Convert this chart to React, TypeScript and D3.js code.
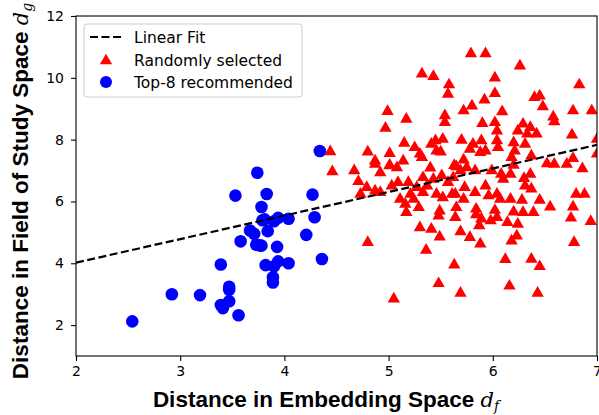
import React, { useEffect, useRef } from "react";
import * as d3 from "d3";

const xTicks = [2, 3, 4, 5, 6, 7];
const yTicks = [2, 4, 6, 8, 10, 12];
const xDomain = [2, 7];
const yDomain = [1, 12];

// Top-8 recommended (blue circles)
const topX = [2.54, 2.92, 3.19, 3.39, 3.39, 3.41, 3.47, 3.47, 3.47, 3.56, 3.53, 3.58, 3.67, 3.71, 3.73, 3.74, 3.78, 3.79, 3.78, 3.83,
  3.84, 3.82, 3.89, 3.89, 3.90, 3.90, 3.93, 3.94, 3.94, 4.04, 4.04, 4.21, 4.27, 4.29, 4.36, 4.34, 3.76, 3.81];
const topY = [2.12, 3.00, 2.97, 3.96, 2.65, 2.55, 2.77, 3.24, 3.14, 2.32, 6.19, 4.71, 5.06, 4.95, 4.60, 6.93, 4.57, 5.39, 5.82, 6.24,
  5.04, 3.94, 3.55, 3.38, 3.90, 5.36, 4.53, 5.47, 4.06, 5.44, 4.00, 4.92, 6.22, 5.49, 4.14, 7.63, 4.58, 5.42];

// Randomly selected (red triangles)
const randX = [4.44, 4.46, 4.67, 4.80, 4.87, 4.92, 4.97, 4.99, 5.01, 5.01, 5.08, 5.15, 5.14, 5.17, 5.25, 5.30, 5.32, 5.43, 5.40, 5.41,
  5.45, 5.46, 5.52, 5.50, 5.54, 5.54, 5.58, 5.57, 5.70, 5.72, 5.80, 5.72, 5.65, 5.79, 5.93, 5.81, 5.78, 5.89, 5.90, 5.92,
  6.02, 6.02, 6.02, 6.04, 6.04, 6.05, 6.09, 5.93, 6.20, 6.21, 6.24, 6.26, 6.29, 6.33, 6.36, 6.42, 6.31, 6.18, 6.37, 6.40,
  6.45, 6.48, 6.58, 6.59, 6.52, 6.59, 6.71, 6.76, 6.77, 6.77, 6.83, 6.86, 6.95, 7.00, 7.00,
  4.71, 4.73, 4.79, 4.87, 4.92, 4.87, 5.01, 5.03, 5.09, 5.11, 5.16, 5.19, 5.21, 5.17, 5.24, 5.29, 5.30, 5.27, 5.33, 5.37,
  5.41, 5.43, 5.46, 5.49, 5.48, 5.49, 5.51, 5.52, 5.57, 5.61, 5.64, 5.65, 5.64, 5.69, 5.69, 5.72, 5.73, 5.75, 5.78, 5.83,
  5.83, 5.84, 5.88, 5.89, 5.87, 5.93, 5.96, 5.98, 5.99, 6.04, 6.07, 6.08, 6.10, 6.14, 6.17, 6.17, 6.20, 6.18, 6.23, 6.24,
  6.28, 6.29, 6.31, 6.36, 6.37, 6.39, 6.45, 6.55, 6.75, 6.77, 6.80, 6.78, 6.88, 6.94,
  4.80, 5.36, 5.48, 5.05, 5.63, 5.69, 6.12, 6.16, 6.37, 6.45, 6.43,
  5.32, 5.33, 5.88, 5.62, 6.02, 6.04, 6.20, 5.63, 6.30, 5.84];
const randY = [7.64, 6.99, 7.02, 7.63, 7.34, 6.96, 8.40, 8.94, 7.58, 7.20, 7.12, 7.91, 7.34, 8.69, 7.77, 7.56, 10.15, 10.07, 7.11, 7.88,
  7.99, 7.66, 8.04, 7.63, 8.80, 8.58, 9.80, 9.50, 8.01, 8.96, 9.12, 7.37, 7.15, 10.81, 10.81, 7.88, 7.72, 7.99, 8.55, 9.31,
  10.02, 9.52, 8.58, 8.31, 7.99, 7.77, 8.93, 7.66, 7.93, 7.66, 8.31, 10.41, 8.53, 8.21, 8.42, 8.21, 7.88, 7.45, 7.50, 9.39,
  9.44, 9.09, 8.76, 8.61, 7.25, 7.23, 7.23, 8.18, 8.96, 7.42, 9.80, 7.09, 8.96, 7.56, 8.04,
  6.67, 6.26, 6.48, 6.37, 6.32, 7.23, 7.18, 6.53, 6.64, 6.10, 5.94, 6.64, 6.26, 5.67, 6.10, 5.83, 5.18, 6.48, 6.32, 6.53,
  5.13, 6.75, 6.26, 5.72, 5.56, 4.88, 6.86, 6.15, 6.64, 6.26, 6.26, 5.83, 5.51, 7.02, 5.05, 6.10, 6.48, 7.12, 4.86, 7.02,
  6.32, 5.78, 4.65, 5.46, 5.24, 6.53, 6.21, 5.40, 7.02, 6.26, 6.10, 6.91, 6.75, 5.35, 6.91, 6.10, 5.69, 4.75, 4.91, 5.29,
  6.07, 5.67, 6.53, 6.91, 6.43, 5.67, 6.07, 5.85, 5.49, 5.85, 6.26, 4.70, 6.26, 5.38,
  4.70, 4.45, 3.37, 2.87, 3.97, 3.06, 4.15, 3.29, 4.16, 3.92, 3.06,
  7.45, 6.80, 7.61, 6.80, 5.74, 5.51, 7.20, 7.19, 6.77, 5.60];

// linear fit: slope, intercept, drawn over x range
const fitCoef = [0.762, 2.496];
const fitRange = [2, 7];

const legendLabels = ["Linear Fit", "Randomly selected", "Top-8 recommended"];

export default function App() {
  const svgRef = useRef<SVGSVGElement>(null);
  const width = 599;
  const height = 415;
  const margin = { top: 16, right: 2, bottom: 59, left: 76 };

  useEffect(() => {
    const svg = d3.select(svgRef.current);
    svg.selectAll("*").remove();

    const x = d3.scaleLinear().domain(xDomain).range([margin.left, width - margin.right]);
    const y = d3.scaleLinear().domain(yDomain).range([height - margin.bottom, margin.top]);

    svg.append("defs").append("clipPath").attr("id", "plotClip")
      .append("rect")
      .attr("x", margin.left).attr("y", margin.top)
      .attr("width", width - margin.left - margin.right)
      .attr("height", height - margin.top - margin.bottom);

    const plot = svg.append("g").attr("clip-path", "url(#plotClip)");

    const tri = d3.symbol().type(d3.symbolTriangle).size(66);
    const randPts = d3.zip(randX, randY);
    plot.append("g")
      .selectAll("path")
      .data(randPts)
      .join("path")
      .attr("d", tri)
      .attr("transform", d => `translate(${x(d[0])},${y(d[1]) + 0.8})`)
      .attr("fill", "#ff0000");

    const topPts = d3.zip(topX, topY);
    plot.append("g")
      .selectAll("circle")
      .data(topPts)
      .join("circle")
      .attr("cx", d => x(d[0]))
      .attr("cy", d => y(d[1]))
      .attr("r", 6.3)
      .attr("fill", "#0000ff");

    const fitLine = d3.line<number>()
      .x(d => x(d))
      .y(d => y(fitCoef[0] * d + fitCoef[1]));
    plot.append("path")
      .datum(fitRange)
      .attr("d", fitLine)
      .attr("fill", "none")
      .attr("stroke", "#000")
      .attr("stroke-width", 2.2)
      .attr("stroke-dasharray", "8,3.5");

    // axes
    const xAxis = svg.append("g")
      .attr("transform", `translate(0,${height - margin.bottom})`)
      .call(d3.axisBottom(x).tickValues(xTicks).tickSize(5).tickPadding(5).tickFormat(d3.format("d")));
    const yAxis = svg.append("g")
      .attr("transform", `translate(${margin.left},0)`)
      .call(d3.axisLeft(y).tickValues(yTicks).tickSize(5).tickPadding(7).tickFormat(d3.format("d")));
    [xAxis, yAxis].forEach(a => {
      a.select(".domain").remove();
      a.selectAll("line").attr("stroke", "#000").attr("stroke-width", 1.1);
      a.selectAll("text")
        .attr("fill", "#000")
        .style("font-family", "DejaVu Sans")
        .style("font-size", "14px");
    });

    svg.append("rect")
      .attr("x", margin.left).attr("y", margin.top)
      .attr("width", width - margin.left - margin.right)
      .attr("height", height - margin.top - margin.bottom)
      .attr("fill", "none")
      .attr("stroke", "#000")
      .attr("stroke-width", 1.1);

    // legend
    const lg = svg.append("g");
    lg.append("rect")
      .attr("x", 84).attr("y", 24).attr("width", 218).attr("height", 73)
      .attr("rx", 3)
      .attr("fill", "#fff").attr("fill-opacity", 0.8)
      .attr("stroke", "#cccccc").attr("stroke-width", 1);
    const rowY = [37, 60, 82];
    lg.append("line")
      .attr("x1", 90).attr("x2", 122).attr("y1", rowY[0]).attr("y2", rowY[0])
      .attr("stroke", "#000").attr("stroke-width", 2.2).attr("stroke-dasharray", "8,3.5");
    lg.append("path").attr("d", tri)
      .attr("transform", `translate(106,${rowY[1] + 0.8})`).attr("fill", "#ff0000");
    lg.append("circle").attr("cx", 106).attr("cy", rowY[2]).attr("r", 6).attr("fill", "#0000ff");
    lg.selectAll("text.lbl")
      .data(legendLabels)
      .join("text")
      .attr("class", "lbl")
      .attr("x", 134)
      .attr("y", (d, i) => rowY[i])
      .attr("dy", "0.36em")
      .style("font-family", "DejaVu Sans")
      .style("font-size", "15.5px")
      .attr("fill", "#000")
      .text(d => d);

    // axis titles
    const xt = svg.append("text")
      .attr("x", 326)
      .attr("y", 407)
      .attr("text-anchor", "middle")
      .attr("fill", "#000");
    xt.append("tspan")
      .style("font-family", "Liberation Sans, Arial, sans-serif")
      .style("font-weight", "bold")
      .style("font-size", "22.5px")
      .text("Distance in Embedding Space ");
    xt.append("tspan")
      .style("font-family", "DejaVu Serif, serif")
      .style("font-style", "italic")
      .style("font-size", "21px")
      .text("d");
    xt.append("tspan")
      .attr("dy", 4)
      .style("font-family", "DejaVu Serif, serif")
      .style("font-style", "italic")
      .style("font-size", "14px")
      .text("f");

    const yt = svg.append("text")
      .attr("transform", `translate(28,191) rotate(-90)`)
      .attr("text-anchor", "middle")
      .attr("fill", "#000");
    yt.append("tspan")
      .style("font-family", "Liberation Sans, Arial, sans-serif")
      .style("font-weight", "bold")
      .style("font-size", "22.5px")
      .text("Distance in Field of Study Space ");
    yt.append("tspan")
      .style("font-family", "DejaVu Serif, serif")
      .style("font-style", "italic")
      .style("font-size", "21px")
      .text("d");
    yt.append("tspan")
      .attr("dy", 4)
      .style("font-family", "DejaVu Serif, serif")
      .style("font-style", "italic")
      .style("font-size", "14px")
      .text("g");
  }, []);

  return (
    <svg
      ref={svgRef}
      width={width}
      height={height}
      style={{ position: "absolute", left: 0, top: 0, background: "#fff" }}
    />
  );
}
